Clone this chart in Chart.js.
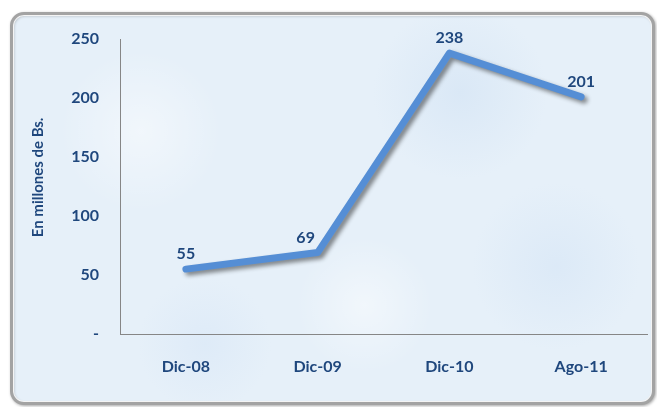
<!DOCTYPE html>
<html lang="es">
<head>
<meta charset="UTF-8">
<title>En millones de Bs.</title>
<script src="https://cdn.jsdelivr.net/npm/chart.js"></script>
<style>
    html, body {
        margin: 0;
        padding: 0;
        background: #fff;
    }
    .frame {
        position: absolute;
        left: 10px;
        top: 12px;
        width: 639px;
        height: 387px;
        border: 3px solid #a3a3a3;
        border-radius: 14px;
        box-shadow: inset 0 0 0 1px #f4f4f4, inset 1px 1px 3px rgba(0,0,0,0.25), 1px 1px 3px rgba(0,0,0,0.35);
        background-color: #e6f0f9;
        background-image:
            radial-gradient(circle at 20% 30%, rgba(255,255,255,0.45) 0, rgba(255,255,255,0) 14%),
            radial-gradient(circle at 70% 20%, rgba(206,224,243,0.5) 0, rgba(206,224,243,0) 16%),
            radial-gradient(circle at 55% 75%, rgba(255,255,255,0.45) 0, rgba(255,255,255,0) 15%),
            radial-gradient(circle at 85% 65%, rgba(210,227,245,0.5) 0, rgba(210,227,245,0) 14%),
            radial-gradient(circle at 30% 85%, rgba(212,228,246,0.45) 0, rgba(212,228,246,0) 12%);
    }
    #chart {
        position: absolute;
        left: 0;
        top: 0;
    }
</style>
</head>
<body>
<div class="frame"></div>
<canvas id="chart" width="657" height="407"></canvas>

<script>
    // datos
    const categories = ['Dic-08', 'Dic-09', 'Dic-10', 'Ago-11'];
    const values = [55, 69, 238, 201];
    const yTicks = [0, 50, 100, 150, 200, 250];

    const navy = '#1f477d';
    const font = { family: 'Lato', weight: 'bold', size: 16 };
    const labelShift = [0, -12, 0, 0]; // la etiqueta de Dic-09 esta corrida a la izquierda

    // sombra de la linea
    const lineShadow = {
        id: 'lineShadow',
        beforeDatasetDraw(chart) {
            const ctx = chart.ctx;
            ctx.save();
            ctx.shadowColor = 'rgba(0,0,0,0.45)';
            ctx.shadowBlur = 4;
            ctx.shadowOffsetX = 3;
            ctx.shadowOffsetY = 3;
        },
        afterDatasetDraw(chart) {
            chart.ctx.restore();
        }
    };

    // etiquetas de valores sobre cada punto
    const valueLabels = {
        id: 'valueLabels',
        afterDatasetsDraw(chart) {
            const ctx = chart.ctx;
            const meta = chart.getDatasetMeta(0);
            ctx.save();
            ctx.fillStyle = navy;
            ctx.font = 'bold 16px Lato';
            ctx.textAlign = 'center';
            ctx.textBaseline = 'bottom';
            meta.data.forEach((pt, i) => {
                ctx.fillText(values[i], pt.x + labelShift[i], pt.y - 7);
            });
            ctx.restore();
        }
    };

    new Chart(document.getElementById('chart'), {
        type: 'line',
        data: {
            labels: categories,
            datasets: [{
                data: values,
                borderColor: '#558ed5',
                borderWidth: 7,
                borderCapStyle: 'round',
                borderJoinStyle: 'round',
                pointRadius: 0,
                tension: 0,
                fill: false
            }]
        },
        options: {
            responsive: false,
            animation: false,
            layout: { padding: { top: 39, right: 10, left: 29, bottom: 0 } },
            plugins: {
                legend: { display: false },
                tooltip: { enabled: false }
            },
            scales: {
                x: {
                    offset: true,
                    grid: { display: false, drawTicks: false },
                    border: { color: '#868686', width: 1 },
                    ticks: { color: navy, font: font, padding: 23, maxRotation: 0 },
                    afterFit: s => { s.height = 73; }
                },
                y: {
                    min: 0,
                    max: 250,
                    afterBuildTicks: s => { s.ticks = yTicks.map(v => ({ value: v })); },
                    grid: { display: false, drawTicks: false },
                    border: { color: '#868686', width: 1 },
                    ticks: {
                        color: navy,
                        font: font,
                        padding: 21,
                        callback: v => v === 0 ? '-' : v
                    },
                    title: {
                        display: true,
                        // espacios al inicio para subir el titulo como en el original
                        text: '\u00a0\u00a0\u00a0\u00a0\u00a0En millones de Bs.',
                        color: navy,
                        font: { family: 'Lato', weight: 'bold', size: 15 },
                        padding: { top: 0, bottom: 0 }
                    },
                    afterFit: s => { s.width = 91; }
                }
            }
        },
        plugins: [lineShadow, valueLabels]
    });
</script>
</body>
</html>
